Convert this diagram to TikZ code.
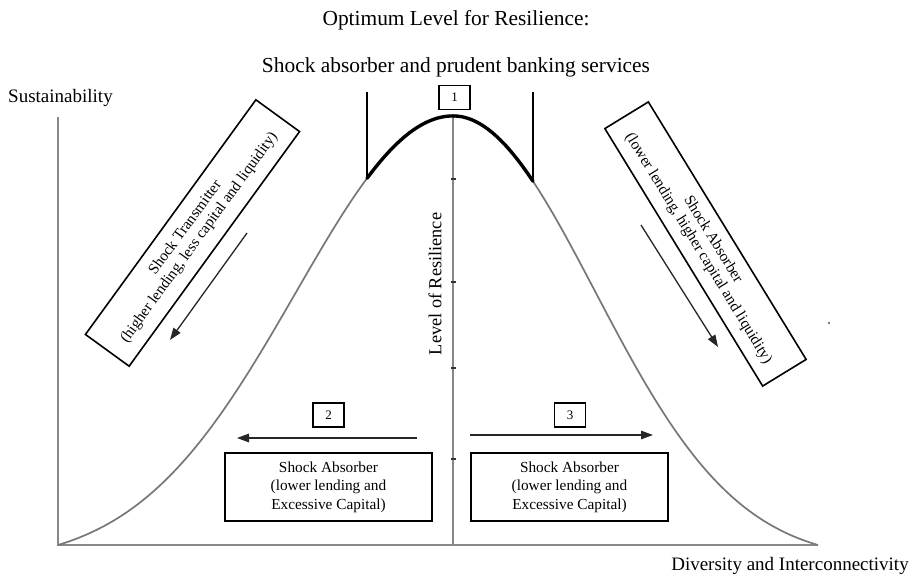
\documentclass[tikz,border=0pt]{standalone}
\usepackage{fontspec}
\setmainfont{Liberation Serif}
\usetikzlibrary{arrows.meta}
\definecolor{axisgray}{HTML}{888888}
\definecolor{curvegray}{HTML}{777777}
\begin{document}
\begin{tikzpicture}[x=1pt,y=-1pt,
  axisline/.style={draw=axisgray, line width=2.2pt},
  curveline/.style={draw=curvegray, line width=1.7pt},
  peakline/.style={draw=black, line width=3.4pt, line cap=round},
  markline/.style={draw=black, line width=1.4pt},
  tickline/.style={draw=black!80, line width=1.6pt},
  rotbox/.style={draw, line width=1.6pt, align=center, inner sep=0pt,
    font=\fontsize{15.3}{17}\selectfont},
  lowbox/.style={draw, line width=1.6pt, align=center, inner sep=0pt,
    minimum height=68pt, font=\fontsize{15.3}{18.5}\selectfont},
  numbox/.style={draw, line width=1.4pt, inner sep=0pt, minimum width=31pt,
    minimum height=24pt, font=\fontsize{13}{13}\selectfont},
  arr/.style={draw=black!85, line width=1.3pt, -{Triangle[length=12pt,width=8.5pt]}},
  bigtitle/.style={font=\fontsize{21.4}{24}\selectfont},
  axlabel/.style={font=\fontsize{19}{22}\selectfont}
]
\useasboundingbox (0,0) rectangle (914,581);

% axes
\coordinate (O) at (58,545);
\coordinate (Ytop) at (58,117);
\coordinate (Xend) at (818,545);
\coordinate (Ctop) at (453,114);
\coordinate (Cbot) at (453,545);
\draw[axisline] (Ytop) -- (O) -- (Xend);
\draw[axisline] (Ctop) -- (Cbot);

% ticks on central axis
\foreach \t [count=\i] in {179,282,368,459}{
  \coordinate (tl\i) at (450.5,\t);
  \coordinate (tr\i) at (455.5,\t);
  \draw[tickline] (tl\i) -- (tr\i);
}

% bell curve
\draw[curveline] plot[domain=58:367, samples=90]
  (\x,{545-429*(exp(-0.5*((\x-453)/157)^2)-0.0422)/(1-0.0422)});
\draw[curveline] plot[domain=533:818, samples=90]
  (\x,{545-429*(exp(-0.5*((\x-453)/142)^2)-0.0368)/(1-0.0368)});
\draw[peakline] plot[domain=367:453, samples=40]
  (\x,{545-429*(exp(-0.5*((\x-453)/157)^2)-0.0422)/(1-0.0422)})
  -- plot[domain=453:533, samples=40]
  (\x,{545-429*(exp(-0.5*((\x-453)/142)^2)-0.0368)/(1-0.0368)});

% vertical markers of optimum zone
\coordinate (vl1) at (367,92);
\coordinate (vl2) at (367,178);
\coordinate (vr1) at (533,92);
\coordinate (vr2) at (533,181);
\draw[markline] (vl1) -- (vl2);
\draw[markline] (vr1) -- (vr2);

% titles and labels
\node[bigtitle] (t1) at (456,20) {Optimum Level for Resilience:};
\node[bigtitle] (t2) at (456,67) {Shock absorber and prudent banking services};
\node[axlabel] (ylab) at (60.5,98) {Sustainability};
\node[axlabel] (xlab) at (790,566) {Diversity and Interconnectivity};
\node[axlabel, font=\fontsize{18.3}{20}\selectfont, rotate=90] (clab) at (435,284) {Level of Resilience};

% number boxes
\node[numbox] (n1) at (454.5,97.5) {1};
\node[numbox] (n2) at (328.5,415) {2};
\node[numbox] (n3) at (570,415) {3};

% rotated boxes
\node[rotbox, rotate=54, minimum width=290pt, minimum height=54pt] (lbox) at (192.5,233)
  {Shock Transmitter\\(higher lending, less capital and liquidity)};
\node[rotbox, rotate=-58.5, minimum width=302pt, minimum height=51pt] (rbox) at (705.5,244)
  {Shock Absorber\\(lower lending, higher capital and liquidity)};

% diagonal arrows
\coordinate (la1) at (247,233);
\coordinate (la2) at (170,340);
\coordinate (ra1) at (641,225);
\coordinate (ra2) at (718,347);
\draw[arr] (la1) -- (la2);
\draw[arr] (ra1) -- (ra2);

% horizontal arrows
\coordinate (ha1) at (417,438);
\coordinate (ha2) at (237,438);
\coordinate (hb1) at (470,435);
\coordinate (hb2) at (653,435);
\draw[arr] (ha1) -- (ha2);
\draw[arr] (hb1) -- (hb2);

% lower boxes
\node[lowbox, minimum width=207pt] (bl) at (328.5,487)
  {Shock Absorber\\(lower lending and\\Excessive Capital)};
\node[lowbox, minimum width=197pt] (br) at (569.5,487)
  {Shock Absorber\\(lower lending and\\Excessive Capital)};

% stray dot
\fill[black!70] (829,323) circle (1.2pt);
\end{tikzpicture}
\end{document}
